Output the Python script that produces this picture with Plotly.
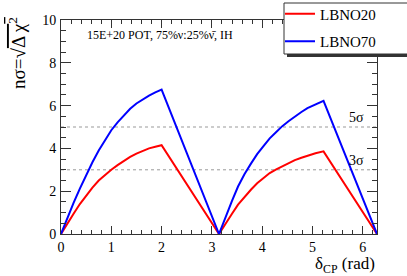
import numpy as np
import plotly.graph_objects as go

PI = np.pi
delta_cp = [0, 0.125, 0.25, 0.375, 0.5, 0.625, 0.75, 0.875, 1.0, 1.125, 1.25, 1.375,
            1.5, 1.625, 1.75, 1.875, 2.0, PI,
            3.27, 3.4, 3.52, 3.65, 3.78, 3.9, 4.03, 4.15, 4.28, 4.4, 4.53,
            4.65, 4.78, 4.9, 5.06, 5.22, 2 * PI]
lbno20 = [0, 0.5, 0.95, 1.4, 1.8, 2.17, 2.5, 2.77, 3.0, 3.22, 3.42, 3.6,
          3.76, 3.89, 4.0, 4.08, 4.15, 0,
          0.5, 0.95, 1.37, 1.75, 2.08, 2.37, 2.63, 2.85, 3.02, 3.17, 3.32,
          3.45, 3.56, 3.66, 3.77, 3.86, 0]
lbno70 = [0, 0.75, 1.45, 2.12, 2.75, 3.35, 3.9, 4.4, 4.85, 5.22, 5.55, 5.85,
          6.1, 6.3, 6.47, 6.62, 6.75, 0,
          0.8, 1.55, 2.22, 2.8, 3.3, 3.73, 4.12, 4.47, 4.77, 5.04, 5.28,
          5.5, 5.7, 5.88, 6.06, 6.22, 0]
sigma_levels = [5, 3]
sigma_labels = ["5σ", "3σ"]
x_ticks = [0, 1, 2, 3, 4, 5, 6]
y_ticks = [0, 2, 4, 6, 8, 10]

SERIF = "Liberation Serif, Times New Roman, serif"
W, H = 407, 276
L, R, T, B = 61, 30, 20, 42
PW, PH = W - L - R, H - T - B


def px_x(p):
    return (p - L) / PW


def px_y(p):
    return (H - B - p) / PH


fig = go.Figure()
fig.add_trace(go.Scatter(x=delta_cp, y=lbno20, mode="lines", name="LBNO20",
                         line=dict(color="#ff0000", width=2), legendgroup="a"))
fig.add_trace(go.Scatter(x=delta_cp, y=lbno70, mode="lines", name="LBNO70",
                         line=dict(color="#0000ff", width=2), legendgroup="b"))

for lvl, lab in zip(sigma_levels, sigma_labels):
    fig.add_shape(type="line", xref="x", yref="y", x0=0, x1=2 * PI, y0=lvl, y1=lvl,
                  line=dict(color="#999999", width=1, dash="dot"), layer="below")
    fig.add_annotation(x=5.88, y=lvl + 0.45, xref="x", yref="y", text=lab,
                       showarrow=False, font=dict(family=SERIF, size=14, color="black"),
                       xanchor="center", yanchor="middle")

# legend box with shadow
fig.add_shape(type="rect", xref="paper", yref="paper",
              x0=px_x(287), x1=px_x(412), y0=px_y(57), y1=px_y(6),
              fillcolor="#333333", line=dict(width=0), layer="above")
fig.add_shape(type="rect", xref="paper", yref="paper",
              x0=px_x(284), x1=px_x(410), y0=px_y(54), y1=px_y(3),
              fillcolor="white", line=dict(color="#333333", width=1), layer="above")

fig.add_annotation(x=px_x(85), y=px_y(35), xref="paper", yref="paper",
                   text="15E+20 POT, 75%ν:25%ν̄, IH", showarrow=False,
                   xanchor="left", yanchor="middle",
                   font=dict(family=SERIF, size=12, color="black"))

fig.add_annotation(x=px_x(17), y=px_y(53), xref="paper", yref="paper",
                   text="nσ=√<span style='text-decoration:overline'>Δ χ<sup>2</sup></span>",
                   textangle=-90, showarrow=False, xanchor="center", yanchor="middle",
                   font=dict(family=SERIF, size=19, color="black"))

fig.add_annotation(x=1.0, y=px_y(265), xref="paper", yref="paper",
                   text="δ<sub>CP</sub> (rad)", showarrow=False,
                   xanchor="right", yanchor="middle",
                   font=dict(family=SERIF, size=17, color="black"))

axis_common = dict(showgrid=False, zeroline=False, showline=True, linecolor="#333333",
                   linewidth=1, mirror="ticks", ticks="inside", tickcolor="#333333",
                   tickfont=dict(family=SERIF, size=14, color="black"))

fig.update_xaxes(range=[0, 2 * PI], tickvals=x_ticks, ticklen=8,
                 minor=dict(ticks="inside", dtick=0.2, tick0=0, ticklen=4, tickcolor="#333333"),
                 **axis_common)
fig.update_yaxes(range=[0, 10], tickvals=y_ticks, ticklen=10,
                 minor=dict(ticks="inside", dtick=0.5, tick0=0, ticklen=5, tickcolor="#333333"),
                 ticklabelstandoff=1, **axis_common)

fig.update_layout(
    width=W, height=H, margin=dict(l=L, r=R, t=T, b=B, autoexpand=False),
    paper_bgcolor="white", plot_bgcolor="white",
    legend=dict(x=px_x(280), y=px_y(-2.5), xanchor="left", yanchor="top",
                bgcolor="rgba(0,0,0,0)", borderwidth=0, tracegroupgap=5,
                traceorder="grouped", itemwidth=30,
                font=dict(family=SERIF, size=15, color="black")),
)

fig.write_html("out.html", config={"displayModeBar": False},
               post_script="document.body.style.margin='0';document.body.style.overflow='hidden';")
